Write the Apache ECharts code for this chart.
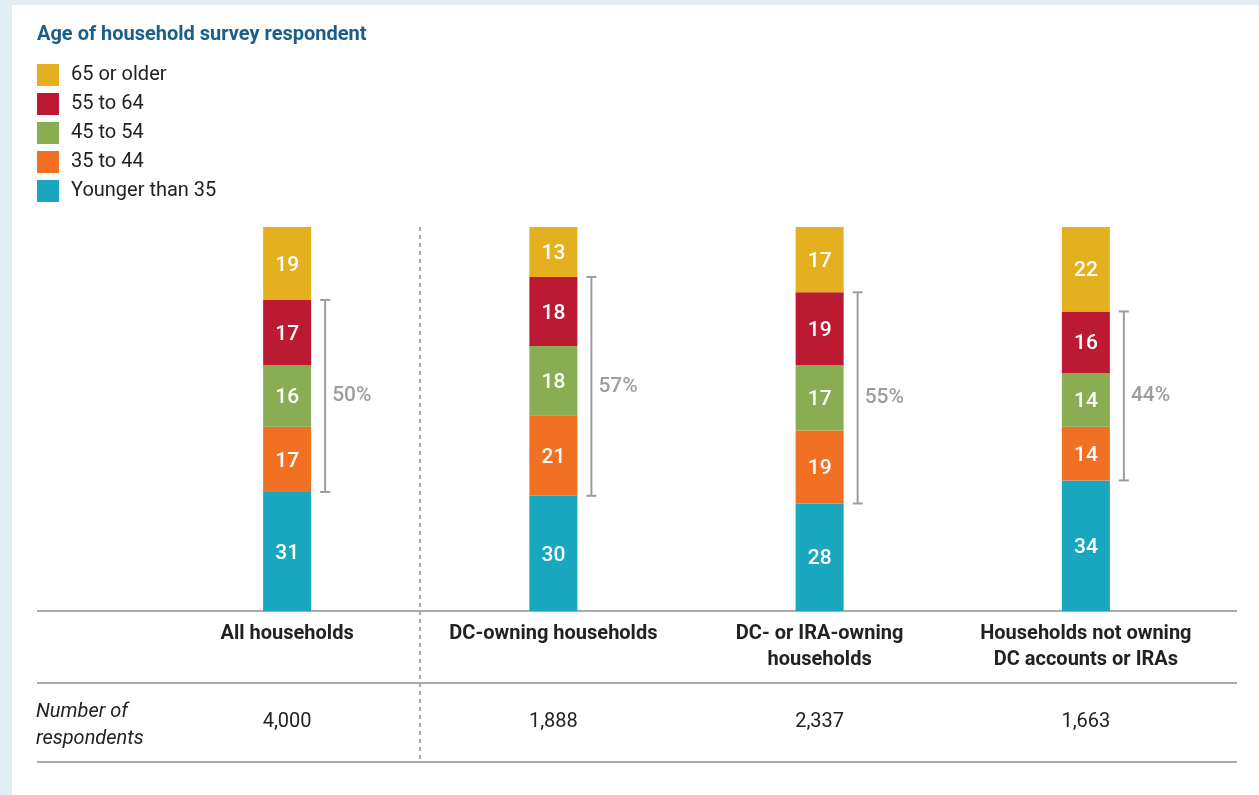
<!DOCTYPE html>
<html>
<head>
<meta charset="utf-8">
<script src="https://cdn.jsdelivr.net/npm/echarts@6/dist/echarts.min.js"></script>
<style>
  html, body { margin: 0; padding: 0; }
  #chart { width: 1259px; height: 795px; }
</style>
</head>
<body>
<div id="chart"></div>
<script>
var groups = ['All households', 'DC-owning households', 'DC- or IRA-owning\nhouseholds', 'Households not owning\nDC accounts or IRAs'];
var respondents = ['4,000', '1,888', '2,337', '1,663'];

var ageNames = ['Younger than 35', '35 to 44', '45 to 54', '55 to 64', '65 or older'];
var ageColors = ['#19a6bf', '#f27023', '#88ad52', '#bc1932', '#e4b020'];

var younger35 = [31, 30, 28, 34];
var age35to44 = [17, 21, 19, 14];
var age45to54 = [16, 18, 17, 14];
var age55to64 = [17, 18, 19, 16];
var age65plus = [19, 13, 17, 22];

var ageValues = [younger35, age35to44, age45to54, age55to64, age65plus];

var font = 'Roboto, "Open Sans", sans-serif';

// bracket data: [index, bottom, top, share of 35-64]
var brackets = groups.map(function (g, i) {
  var mid = age35to44[i] + age45to54[i] + age55to64[i];
  return [i, younger35[i], younger35[i] + mid, mid];
});

var myChart = echarts.init(document.getElementById('chart'));

var series = ageNames.map(function (name, k) {
  return {
    name: name,
    type: 'bar',
    stack: 'age',
    barWidth: 48,
    data: ageValues[k],
    itemStyle: { color: ageColors[k] },
    label: {
      show: true,
      color: '#fff',
      fontSize: 21,
      fontWeight: 500,
      fontFamily: font,
      offset: [0, 2]
    }
  };
});

series.push({
  type: 'custom',
  name: 'bracket',
  data: brackets,
  silent: true,
  renderItem: function (params, api) {
    var x = api.coord([api.value(0), 0])[0] + 38;
    var yLo = api.coord([api.value(0), api.value(1)])[1];
    var yHi = api.coord([api.value(0), api.value(2)])[1];
    var st = { stroke: '#9d9d9d', lineWidth: 2 };
    return {
      type: 'group',
      children: [
        { type: 'line', shape: { x1: x, y1: yHi, x2: x, y2: yLo }, style: st },
        { type: 'line', shape: { x1: x - 5, y1: yHi, x2: x + 5, y2: yHi }, style: st },
        { type: 'line', shape: { x1: x - 5, y1: yLo, x2: x + 5, y2: yLo }, style: st },
        {
          type: 'text',
          x: x + 7,
          y: (yHi + yLo) / 2,
          style: {
            text: api.value(3) + '%',
            fill: '#9d9d9d',
            font: '500 21px ' + font,
            verticalAlign: 'middle',
            align: 'left'
          }
        }
      ]
    };
  }
});

var option = {
  backgroundColor: '#e0eef4',
  animation: false,
  title: {
    text: 'Age of household survey respondent',
    left: 32,
    top: 20,
    textStyle: { color: '#1b5d8b', fontSize: 20, fontWeight: 'bold', fontFamily: font }
  },
  legend: {
    orient: 'vertical',
    left: 37,
    top: 64,
    padding: 0,
    itemWidth: 22,
    itemHeight: 22,
    itemGap: 7,
    icon: 'rect',
    data: ['65 or older', '55 to 64', '45 to 54', '35 to 44', 'Younger than 35'],
    textStyle: { color: '#222', fontSize: 20, fontFamily: font, padding: [0, 0, 0, 7] }
  },
  grid: { left: 154, right: 40, top: 227, bottom: 184 },
  xAxis: [
    {
      type: 'category',
      data: groups,
      axisLine: { show: false },
      axisTick: { show: false },
      axisLabel: {
        interval: 0,
        margin: 10,
        color: '#222',
        fontSize: 20,
        fontWeight: 'bold',
        lineHeight: 26,
        fontFamily: font
      }
    },
    {
      type: 'category',
      position: 'bottom',
      offset: 90,
      data: respondents,
      axisLine: { show: false },
      axisTick: { show: false },
      axisLabel: {
        interval: 0,
        margin: 8,
        color: '#222',
        fontSize: 20,
        lineHeight: 26,
        fontFamily: font
      }
    }
  ],
  yAxis: {
    type: 'value',
    min: 0,
    max: 100,
    show: false
  },
  graphic: [
    { type: 'rect', z: -10, shape: { x: 12, y: 5, width: 1260, height: 800 }, style: { fill: '#fff' } },
    { type: 'line', shape: { x1: 37, y1: 611, x2: 1237, y2: 611 }, style: { stroke: '#aaa', lineWidth: 2 } },
    { type: 'line', shape: { x1: 37, y1: 683, x2: 1237, y2: 683 }, style: { stroke: '#aaa', lineWidth: 2 } },
    { type: 'line', shape: { x1: 37, y1: 762, x2: 1237, y2: 762 }, style: { stroke: '#aaa', lineWidth: 2 } },
    { type: 'line', shape: { x1: 420, y1: 227, x2: 420, y2: 762 }, style: { stroke: '#aaa', lineWidth: 2, lineDash: [4, 4] } },
    {
      type: 'text',
      left: 36,
      top: 698,
      style: {
        text: 'Number of\nrespondents',
        font: 'italic 20px ' + font,
        lineHeight: 27,
        fill: '#222'
      }
    }
  ],
  series: series
};

myChart.setOption(option);
</script>
</body>
</html>
